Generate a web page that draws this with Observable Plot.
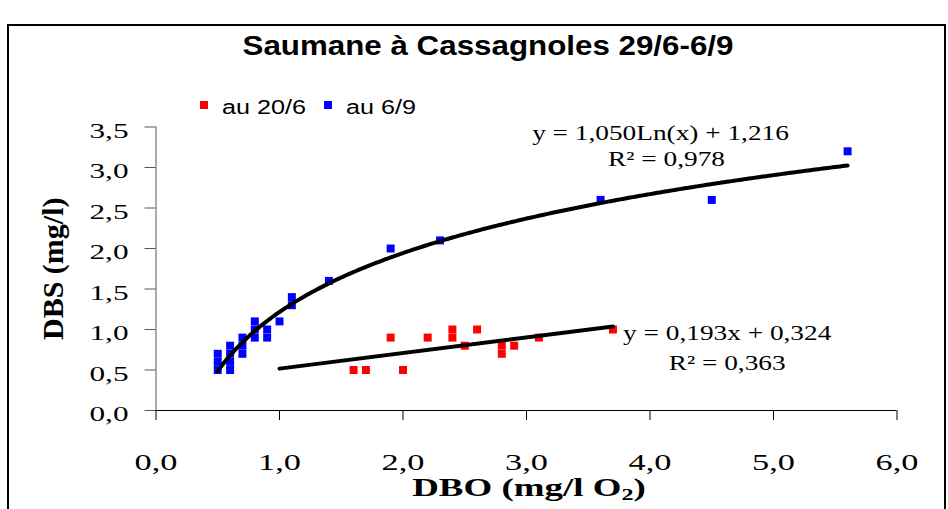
<!DOCTYPE html>
<html>
<head>
<meta charset="utf-8">
<script src="https://cdn.jsdelivr.net/npm/d3@7"></script>
<script src="https://cdn.jsdelivr.net/npm/@observablehq/plot@0.6"></script>
<style>
  body { margin: 0; background: #fff; }
  #wrap { position: relative; width: 948px; height: 509px; overflow: hidden; background: #fff; }
  #frame { position: absolute; left: 7px; top: 24px; width: 935px; height: 540px; border: 2px solid #000; }
  #title { position: absolute; left: 0; top: 33px; width: 976px; text-align: center; white-space: nowrap;
           font: bold 27px "Liberation Sans", Arial, sans-serif; line-height: 27px;
           transform: scaleX(1.16); transform-origin: 488px 0; color: #000; }
  .leg-sw { position: absolute; width: 8px; height: 8px; top: 101px; }
  .leg-tx { position: absolute; top: 97px; white-space: nowrap; font: 20px "Liberation Sans", Arial, sans-serif;
            line-height: 20px; transform: scaleX(1.26); transform-origin: 0 0; color: #000; }
  #chart { position: absolute; left: 0; top: 115px; }
  #chart svg { overflow: visible; }
  #xtitle { position: absolute; left: 0; top: 476px; width: 1058px; text-align: center; white-space: nowrap;
            font: bold 26px "Liberation Serif", "Times New Roman", serif; line-height: 24px;
            transform: scaleX(1.42); transform-origin: 529px 0; color: #000; }
  #xtitle sub { font-size: 17px; vertical-align: -4px; line-height: 0; }
</style>
</head>
<body>
<div id="wrap">
  <div id="frame"></div>
  <div id="title"></div>
  <div id="legend"></div>
  <div id="chart"></div>
  <div id="xtitle"></div>
</div>
<script>
// ---- data ----
const chartTitle = "Saumane à Cassagnoles 29/6-6/9";
const seriesNames = ["au 20/6", "au 6/9"];
const seriesColors = ["#ff0000", "#0000ff"];

// series "au 20/6" (red)
const redX = [1.6, 1.7, 1.9, 2.0, 2.2, 2.4, 2.4, 2.5, 2.6, 2.8, 2.8, 2.9, 3.1, 3.7];
const redY = [0.5, 0.5, 0.9, 0.5, 0.9, 1.0, 0.9, 0.8, 1.0, 0.8, 0.7, 0.8, 0.9, 1.0];
// series "au 6/9" (blue)
const blueX = [0.5, 0.5, 0.5, 0.6, 0.6, 0.6, 0.6, 0.7, 0.7, 0.7, 0.8, 0.8, 0.8, 0.9, 0.9, 1.0, 1.1, 1.1, 1.4, 1.9, 2.3, 3.6, 4.5, 5.6];
const blueY = [0.7, 0.6, 0.5, 0.8, 0.7, 0.6, 0.5, 0.9, 0.8, 0.7, 1.1, 1.0, 0.9, 1.0, 0.9, 1.1, 1.4, 1.3, 1.6, 2.0, 2.1, 2.6, 2.6, 3.2];

const xTicks = [0, 1, 2, 3, 4, 5, 6];
const yTicks = [0, 0.5, 1, 1.5, 2, 2.5, 3, 3.5];
const xLabelMain = "DBO (mg/l O";
const xLabelSub = "2";
const xLabelEnd = ")";
const yLabel = "DBS (mg/l)";

// trend lines (Excel): y = a*ln(x) + b  and  y = a*x + b
const logFit = { a: 1.050, b: 1.216, from: 0.5, to: 5.6 };
const linFit = { a: 0.193, b: 0.324, from: 1.0, to: 3.7 };
const eqTexts = ["y = 1,050Ln(x) + 1,216", "R² = 0,978", "y = 0,193x + 0,324", "R² = 0,363"];

// ---- build ----
const fmt = d => d.toFixed(1).replace(".", ",");
const red = redX.map((x, i) => ({ x, y: redY[i] }));
const blue = blueX.map((x, i) => ({ x, y: blueY[i] }));
const logCurve = d3.range(logFit.from, logFit.to + 1e-9, 0.02).map(x => ({ x, y: logFit.a * Math.log(x) + logFit.b }));
const linCurve = [linFit.from, linFit.to].map(x => ({ x, y: linFit.a * x + linFit.b }));
const eqLabels = [
  { x: 4.085, y: 3.425, t: eqTexts[0] },
  { x: 4.134, y: 3.107, t: eqTexts[1] },
  { x: 4.625, y: 0.959, t: eqTexts[2] },
  { x: 4.625, y: 0.577, t: eqTexts[3] }
];

document.getElementById("title").textContent = chartTitle;
const legend = document.getElementById("legend");
const legPos = [[200, 222], [324, 346]];
seriesNames.forEach((n, i) => {
  const sw = document.createElement("div");
  sw.className = "leg-sw"; sw.style.left = legPos[i][0] + "px"; sw.style.background = seriesColors[i];
  const tx = document.createElement("div");
  tx.className = "leg-tx"; tx.style.left = legPos[i][1] + "px"; tx.textContent = n;
  legend.appendChild(sw); legend.appendChild(tx);
});
const xt = document.getElementById("xtitle");
xt.appendChild(document.createTextNode(xLabelMain));
const sub = document.createElement("sub"); sub.textContent = xLabelSub; xt.appendChild(sub);
xt.appendChild(document.createTextNode(xLabelEnd));

const plot = Plot.plot({
  width: 948,
  height: 361,
  marginLeft: 155.5,
  marginRight: 51.5,
  marginTop: 11.5,
  marginBottom: 66,
  x: { domain: [0, 6] },
  y: { domain: [0, 3.5] },
  style: { background: "transparent", fontFamily: "'Liberation Serif', 'Times New Roman', serif", color: "#000" },
  marks: [
    Plot.axisX({ ticks: xTicks, tickFormat: fmt, tickSize: 10, tickPadding: 32, fontSize: 24, label: null, stroke: "#000" }),
    Plot.axisY({ ticks: yTicks, tickFormat: fmt, tickSize: 11, tickPadding: 16.5, fontSize: 22, label: null, stroke: "#555" }),
    Plot.ruleY([0], { stroke: "#000" }),
    Plot.ruleX([0], { stroke: "#555" }),
    Plot.dot(red, { x: "x", y: "y", symbol: "square", r: 4.5, fill: seriesColors[0] }),
    Plot.dot(blue, { x: "x", y: "y", symbol: "square", r: 4.5, fill: seriesColors[1] }),
    Plot.line(logCurve, { x: "x", y: "y", stroke: "#000", strokeWidth: 4 }),
    Plot.line(linCurve, { x: "x", y: "y", stroke: "#000", strokeWidth: 4 }),
    Plot.text(eqLabels, { x: "x", y: "y", text: "t", fontSize: 21, fill: "#000", ariaDescription: "equations" }),
    Plot.text([yLabel], { frameAnchor: "left", textAnchor: "middle", rotate: -90, dx: -102.5, fontSize: 30, fontWeight: "bold", fill: "#000", ariaDescription: "ylabel" })
  ]
});
document.getElementById("chart").appendChild(plot);

function stretch(sel, k) {
  plot.querySelectorAll(sel).forEach(t => {
    const L = t.getComputedTextLength();
    t.setAttribute("textLength", (L * k).toFixed(2));
    t.setAttribute("lengthAdjust", "spacingAndGlyphs");
  });
}
stretch('g[aria-label="x-axis tick label"] text', 1.43);
stretch('g[aria-label="y-axis tick label"] text', 1.42);
stretch('g[aria-description="equations"] text', 1.3);
plot.querySelectorAll('g[aria-label="y-axis tick label"] text').forEach(t => {
  t.setAttribute("transform", (t.getAttribute("transform") || "") + " translate(0,3.5)");
});
</script>
</body>
</html>
